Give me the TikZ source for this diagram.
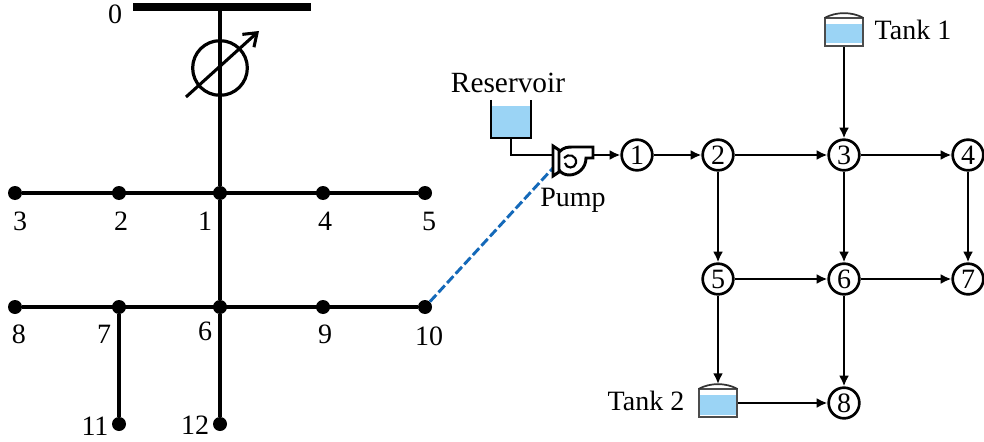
\documentclass[tikz,border=0pt]{standalone}
\usepackage{fontspec}
\setmainfont{Liberation Serif}
\usetikzlibrary{arrows.meta}
\usetikzlibrary{positioning}

\definecolor{waterblue}{RGB}{155,212,245}
\definecolor{linkblue}{RGB}{20,105,185}

\tikzset{
	busdot/.style={circle, fill=black, inner sep=0pt, minimum size=10.5pt},
	busline/.style={line width=2.7pt},
	buslabel/.style={inner sep=0pt, font=\fontsize{21}{21}\selectfont},
	waternode/.style={circle, draw, line width=2pt, fill=white, inner sep=0pt, minimum size=23pt, font=\fontsize{21}{21}\selectfont},
	pipe/.style={line width=2.2pt, -{Latex[length=8pt,width=7.5pt]}},
	pipeplain/.style={line width=2.2pt},
	tankbox/.style={draw=black!70, line width=1.6pt, fill=white, inner sep=0pt, minimum width=29pt, minimum height=21pt}
}

% 1st argument: Name of the tank node.
% 2nd argument: X position.
% 3rd argument: Y position.
\newcommand{\tankSymbol}[3]{
	\node[tankbox] (#1) at (#2,#3) {};
	\coordinate (#1top) at (#2,#3-19);
	\fill[waterblue] (#2-18,#3-8) rectangle (#2+18,#3+11.5);
	\draw[black!80, line width=1.3pt] (#2-19.5,#3-14) .. controls (#2-8,#3-20.5) and (#2+8,#3-20.5) .. (#2+19.5,#3-14);
}

\begin{document}
\begin{tikzpicture}[x=0.75pt, y=-0.75pt]
	\useasboundingbox (0,0) rectangle (984,442);

	% Power network
	\node[fill=black, inner sep=0pt, minimum width=133.5pt, minimum height=5.5pt] (bus0) at (222,7) {};
	\foreach \busname/\xpos/\ypos in {b3/15/193, b2/119/193, b1/220/193, b4/323/193, b5/425/193,
		b8/15/307, b7/119/307, b6/220/307, b9/323/307, b10/425/307, b11/119/424, b12/220/424}
		{\node[busdot] (\busname) at (\xpos,\ypos) {};}

	\draw[busline] (bus0.center -| b1) -- (b1);
	\draw[busline] (b1) -- (b6);
	\draw[busline] (b6) -- (b12);
	\draw[busline] (b3) -- (b5);
	\draw[busline] (b8) -- (b10);
	\draw[busline] (b7) -- (b11);

	% Transformer
	\node[circle, draw, line width=2.4pt, inner sep=0pt, minimum size=41pt] (xfmr) at (220,68) {};
	\coordinate (xfmrA) at (186,97);
	\coordinate (xfmrB) at (259,31);
	\draw[line width=2.3pt, -{Straight Barb[length=9pt,width=13pt]}] (xfmrA) -- (xfmrB);

	% Bus labels
	\foreach \labname/\xpos/\ypos/\labtext in {l0/115/14/0, l3/20/221/3, l2/121/221/2, l1/205/221/1, l4/325/221/4, l5/429/221/5,
		l8/19/334/8, l7/104/334/7, l6/205/331/6, l9/325/334/9, l10/429/336/10, l11/95/426/11, l12/195/425/12}
		{\node[buslabel] (\labname) at (\xpos,\ypos) {\labtext};}

	% Coupling link
	\coordinate (pumpLink) at (553,168);
	\draw[linkblue, line width=2.2pt, dash pattern=on 7pt off 2.5pt] (b10) -- (pumpLink);

	% Water network
	\foreach \wname/\xpos/\ypos/\wtext in {w1/637/155/1, w2/718/155/2, w3/844/155/3, w4/968/155/4,
		w5/718/279/5, w6/844/279/6, w7/968/279/7, w8/844/403/8}
		{\node[waternode] (\wname) at (\xpos,\ypos) {\wtext};}

	\draw[pipe] (w1) -- (w2);
	\draw[pipe] (w2) -- (w3);
	\draw[pipe] (w3) -- (w4);
	\draw[pipe] (w2) -- (w5);
	\draw[pipe] (w3) -- (w6);
	\draw[pipe] (w4) -- (w7);
	\draw[pipe] (w5) -- (w6);
	\draw[pipe] (w6) -- (w7);
	\draw[pipe] (w6) -- (w8);

	% Tanks
	\tankSymbol{tankA}{844}{32}
	\tankSymbol{tankB}{718}{403}
	\draw[pipe] (tankA) -- (w3);
	\draw[pipe] (w5) -- (tankBtop);
	\draw[pipe] (tankB) -- (w8);

	\node[buslabel] (tankAlabel) at (913,30) {Tank 1};
	\node[buslabel] (tankBlabel) at (646,401) {Tank 2};

	% Reservoir
	\node[inner sep=0pt, minimum width=30pt, minimum height=28pt] (reservoir) at (511,119) {};
	\fill[waterblue] (491,106) rectangle (531,137);
	\draw[pipeplain] (491,100) -- (491,138) -- (531,138) -- (531,100);
	\node[buslabel, font=\fontsize{22}{22}\selectfont] (reservoirlabel) at (508,83) {Reservoir};

	% Pump
	\coordinate (pumpIn) at (553,155);
	\coordinate (pumpOut) at (593,155);
	\draw[pipeplain] (reservoir.south) |- (pumpIn);
	\draw[pipeplain, line join=miter, fill=white] (553,146) -- (559,150) -- (559,172) -- (553,176) -- cycle;
	\draw[pipeplain] (559,152) .. controls (564,147) and (568,147) .. (573,147) -- (593,147) -- (593,158) -- (586,158)
		.. controls (586,168) and (578,175) .. (569,175) .. controls (565,175) and (561,173) .. (559,170);
	\draw[line width=1.6pt] (564,158) .. controls (568,153) and (577,155) .. (576,163) .. controls (575,169) and (566,169) .. (565,163);
	\draw[pipe] (pumpOut) -- (w1);
	\node[buslabel] (pumplabel) at (573,200) {Pump};
\end{tikzpicture}
\end{document}
